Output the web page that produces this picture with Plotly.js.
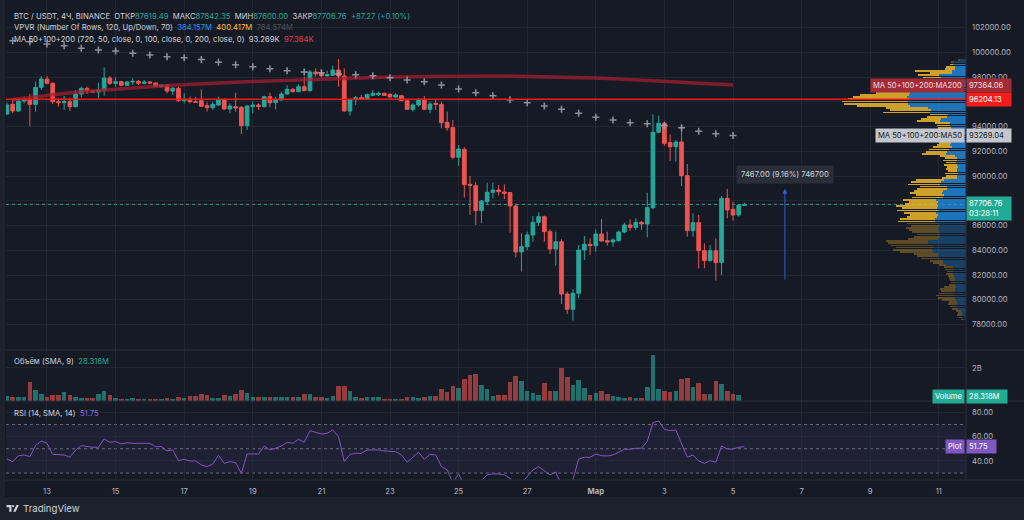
<!DOCTYPE html>
<html><head><meta charset="utf-8">
<script src="https://cdn.plot.ly/plotly-3.0.1.min.js"></script>
<style>html,body{margin:0;padding:0;background:#161a25;overflow:hidden}#chart{width:1024px;height:520px}</style>
</head><body><div id="chart"></div>
<script>
// ---------- DATA (4h candles, BTC/USDT Binance) ----------
const FIRST_CANDLE_UTC = Date.UTC(2025, 1, 11, 20, 0); // Feb 11 20:00
const OPEN = [95011,95792,95254,96062,96196,95792,97166,97839,97489,96008,
95927,96008,95604,96627,97085,96870,96789,96950,97920,97489,
97624,97327,97597,97650,97489,97597,97516,97220,97354,96870,
97085,96089,96196,96008,96089,95685,95523,95738,96143,95415,
95604,95550,94069,95604,95738,95604,96412,95927,96143,96627,
97004,96816,97220,96897,98405,98300,98081,98135,98566,98081,
95254,96170,96331,96196,96519,96573,96681,96600,96385,96492,
96089,95388,95738,96143,95388,95873,95792,94338,93907,91511,
92157,89328,89220,87201,87928,88682,88870,88709,88655,87578,
83862,84292,85235,86258,86716,85504,84104,84696,80468,79229,
80522,84023,84481,84373,85316,84777,84669,84777,85477,86043,
85854,86258,86123,87444,93530,94257,92695,92372,92749,90029,
85585,86232,83970,83162,83970,83000,88198,87309,86851,87619.49];
const HIGH = [95927,96143,96143,96412,96627,97624,98081,98081,97570,96277,
96466,96331,96950,97220,97220,96950,97543,98782,98081,97974,
97700,97680,97893,97758,97758,97680,97560,97408,97408,97220,
97220,96681,96412,96412,97004,95954,96008,96412,96277,95873,
96735,95658,95738,96008,95873,96493,96735,96412,96816,97327,
97100,97408,98028,98566,98701,98566,98512,98916,99455,98701,
96277,96466,96546,96681,96950,96816,96735,96681,96681,96546,
96143,95873,96277,96466,96008,96143,96008,95200,94526,92507,
92318,90002,89490,88063,89463,89463,89274,89328,88700,87793,
85370,85504,86770,87066,86797,85693,85504,84885,80657,80845,
84427,85154,84965,85693,86527,85504,84965,85585,86231,86500,
86581,86366,88655,94984,94876,94392,93368,92910,94068,90971,
86986,86851,84562,84428,84966,88386,88952,87928,87740,87842.35];
const LOW = [94931,95065,95200,95873,94042,95200,96950,97408,95819,95604,
95335,95254,95550,96358,96627,96700,96277,96493,97354,97220,
97250,97280,97354,97354,97408,97462,97190,97166,96681,96547,
96008,95873,95873,95900,95580,95200,95335,95658,95335,95065,
95200,93396,93719,95065,95335,95560,95550,95388,96089,96547,
96760,96762,96850,96816,98028,97974,98060,98120,97220,95200,
94877,95738,96143,96143,96466,96466,96466,96331,96277,96062,
95335,95200,95604,95335,95065,95335,93853,93665,91349,90807,
88252,86852,86043,86177,87712,88197,88413,88143,85423,83431,
82273,84023,84696,85962,84696,83700,82757,79660,78852,78314,
80118,83215,83619,83888,84696,84373,84292,84696,85370,85585,
85639,85639,85046,87309,93449,92452,91214,91160,89194,85101,
85101,82542,82542,83081,81546,82004,86582,86393,86716,87600.00];
const CLOSE = [95738,95254,96062,96196,95792,97166,97839,97489,96008,95927,
96008,95604,96627,97085,96870,96789,96950,97920,97489,97624,
97327,97597,97650,97489,97597,97516,97220,97354,96870,97085,
96089,96196,96008,95950,95631,95523,95792,96143,95415,95658,
95496,94069,95658,95738,95604,96412,95927,96143,96627,97004,
96816,97220,96897,98405,98243,98108,98189,98566,98081,95254,
96170,96331,96196,96573,96681,96681,96519,96385,96546,96089,
95388,95738,96196,95388,95819,95792,94311,93907,91511,92184,
89302,89247,87201,87982,88682,88870,88736,88601,87578,83862,
84292,85235,86258,86716,85504,84104,84696,80468,79229,80522,
84023,84481,84373,85316,84750,84669,84831,85477,86043,85854,
86258,86123,87444,93530,94257,92641,92372,92749,90029,85585,
86232,83970,83162,83970,83000,88198,87255,86851,87632,87706.76];
// volume, millions
const VOLUME_M = [303,242,222,242,1151,667,404,222,343,343,
545,364,222,182,182,182,404,606,343,162,
101,101,202,101,101,101,101,141,202,141,
222,182,303,303,444,343,182,182,343,283,
424,667,505,222,242,242,263,263,222,222,
222,222,424,424,242,242,182,303,889,929,
606,222,182,222,222,222,121,141,121,121,
263,242,162,263,303,303,727,545,909,808,
1333,1576,1616,949,747,323,364,364,1151,1515,
1232,586,485,364,1091,586,586,1980,1454,970,
1293,788,384,465,606,444,323,263,202,222,
202,182,869,2788,747,606,566,586,1333,1414,
848,1111,424,404,1192,1050,586,444,364,28.318];
const RSI = [41.6,39.4,44.3,44.9,43.5,52.6,56.4,54.5,45.4,44.9,
44.9,43.0,49.0,52.6,51.8,51.2,51.2,58.1,55.3,55.9,
54.0,55.0,54.5,54.5,54.5,54.5,51.8,51.8,48.2,49.0,
40.2,41.3,40.0,40.0,36.7,35.3,37.5,44.6,38.0,39.4,
38.6,29.8,45.7,45.7,45.7,52.3,49.0,50.4,52.3,55.3,
54.5,57.8,55.3,64.9,63.3,62.2,62.7,65.5,60.0,39.4,
45.4,46.2,46.2,49.0,49.0,49.0,48.2,47.6,47.6,44.9,
38.9,43.0,47.1,41.3,45.4,44.9,35.3,32.6,22.0,29.3,
20.0,19.0,16.0,24.0,28.5,29.3,29.3,28.5,25.7,18.0,
22.0,27.1,32.6,35.3,32.0,28.5,30.9,20.0,17.0,24.5,
41.6,43.0,43.0,45.7,44.3,44.1,44.9,47.1,49.6,49.6,
50.4,50.4,55.9,71.5,72.9,66.0,64.9,65.5,54.5,43.0,
44.9,40.0,38.0,40.2,38.9,52.3,49.8,49.8,51.2,51.75];
// 12h moving averages
const MA_FIRST_UTC = Date.UTC(2025, 1, 12, 0, 0);
const MA50 = [100933,100853,100667,100529,100319,100182,100101,99916,99778,99641,
99560,99414,99188,98994,98833,98671,98509,98404,98348,98243,
98178,98106,97944,97758,97621,97354,97031,96732,96490,96166,
95924,95657,95391,95067,94744,94526,94300,94227,94082,93904,
93613,93419,93269.04];
const MA200 = [96182,96368,96530,96667,96805,96926,97031,97128,97217,97314,
97394,97459,97516,97580,97637,97686,97742,97798,97855,97903,
97944,97976,98000,98025,98049,98065,98073,98081,98081,98073,
98057,98033,98000,97960,97920,97863,97807,97742,97661,97580,
97491,97403,97364.06];
// Visible-range volume profile, 120 rows (bottom -> top), relative volume
const VP_LOW = 78314, VP_HIGH = 99455, VP_VA_LOW = 86240, VP_VA_HIGH = 99190;
const VP_UP = [3,4,4,4,5,8,9,9,9,10,
11,11,12,11,11,10,11,10,11,11,
12,13,13,12,13,20,23,23,27,28,
28,33,34,32,33,38,38,28,26,26,
27,28,28,27,28,31,31,29,28,30,
28,29,28,29,28,30,23,22,24,23,
19,19,26,25,22,9,9,8,9,9,
8,9,10,9,9,11,20,19,17,14,
16,15,16,15,14,15,15,14,15,16,
16,26,25,19,18,36,35,38,56,58,
58,57,59,57,56,54,55,43,42,35,
26,25,27,14,14,11,11,13,12,6];
const VP_DOWN = [2,3,5,4,5,6,7,9,8,14,
17,19,15,14,15,12,6,5,5,6,
6,7,6,9,9,7,10,13,18,21,
24,33,39,38,42,40,42,30,26,23,
27,29,32,28,31,37,35,30,28,32,
41,35,42,32,29,33,31,28,32,29,
30,27,32,30,28,15,11,13,9,11,
11,13,10,14,12,15,24,21,20,19,
13,12,14,13,12,15,18,15,13,13,
15,23,20,20,18,47,41,42,53,64,
66,61,54,49,34,30,33,40,38,34,
20,18,21,22,37,10,9,3,3,2];
const PRICE_TICKS = [78000,80000,82000,84000,86000,88000,90000,92000,94000,96000,98000,100000,102000];
// 88000 and 96000 sit under the price tags, so their labels are not shown
const PRICE_LABELS = ['78000.00','80000.00','82000.00','84000.00','86000.00','','90000.00','92000.00','94000.00','','98000.00','100000.00','102000.00'];
const DATE_TICKS = ['2025-02-13','2025-02-15','2025-02-17','2025-02-19','2025-02-21','2025-02-23','2025-02-25','2025-02-27','2025-03-01','2025-03-03','2025-03-05','2025-03-07','2025-03-09','2025-03-11'];
const DATE_LABELS = ['13','15','17','19','21','23','25','27','<b>Мар</b>','3','5','7','9','11'];
const HLINE_PRICE = 96204.13;
const LAST_PRICE = 87706.76;
const MEASURE = {time: '2025-03-06 12:20', from: 81500, to: 88967, text: '7467.00 (9.16%) 746700'};

// ---------- helpers ----------
const fmt = d => d.toISOString().slice(0, 16).replace('T', ' ');
const TIMES = CLOSE.map((_, i) => fmt(new Date(FIRST_CANDLE_UTC + i * 4 * 3600e3)));
const MA_TIMES = MA50.map((_, j) => fmt(new Date(MA_FIRST_UTC + j * 12 * 3600e3)));
const rowH = (VP_HIGH - VP_LOW) / VP_UP.length;
const VP_PRICES = VP_UP.map((_, i) => VP_LOW + (i + 0.5) * rowH);
const inVA = p => p >= VP_VA_LOW && p <= VP_VA_HIGH;

const PL = 6, PR = 966, PB = 480;
const px = v => (v - PL) / (PR - PL);
const py = v => (PB - v) / PB;
const F = 'Inter, "Noto Sans", sans-serif';
const TXT = '#d1d4dc', AX = '#b2b5be', GRID = 'rgba(42,46,57,0.6)', SEP = '#2a2e39';
const UP = '#26a69a', DN = '#ef5350';

const traces = [
  {type: 'candlestick', x: TIMES, open: OPEN, high: HIGH, low: LOW, close: CLOSE,
   xaxis: 'x', yaxis: 'y', whiskerwidth: 0, hoverinfo: 'skip',
   increasing: {line: {color: UP, width: 1}, fillcolor: UP},
   decreasing: {line: {color: DN, width: 1}, fillcolor: DN}},
  {type: 'scatter', mode: 'lines', x: MA_TIMES, y: MA200, xaxis: 'x', yaxis: 'y',
   line: {color: 'rgba(165,30,46,0.72)', width: 3.6}, hoverinfo: 'skip'},
  {type: 'scatter', mode: 'markers', x: MA_TIMES, y: MA50, xaxis: 'x', yaxis: 'y',
   marker: {symbol: 'cross-thin', size: 5, line: {width: 1.6, color: 'rgba(160,163,172,0.85)'}}, hoverinfo: 'skip'},
  {type: 'bar', x: TIMES, y: VOLUME_M, xaxis: 'x', yaxis: 'y2', hoverinfo: 'skip',
   marker: {color: CLOSE.map((c, i) => c >= OPEN[i] ? 'rgba(38,166,154,0.62)' : 'rgba(239,83,80,0.6)'), line: {width: 0}}},
  {type: 'scatter', mode: 'lines', x: TIMES, y: RSI, xaxis: 'x', yaxis: 'y3',
   line: {color: '#7e57c2', width: 1}, hoverinfo: 'skip'},
  {type: 'bar', orientation: 'h', x: VP_UP, y: VP_PRICES, xaxis: 'x2', yaxis: 'y', hoverinfo: 'skip',
   marker: {color: VP_PRICES.map(p => inVA(p) ? 'rgba(33,150,243,0.72)' : 'rgba(33,150,243,0.3)'), line: {width: 0}}},
  {type: 'bar', orientation: 'h', x: VP_DOWN, y: VP_PRICES, xaxis: 'x2', yaxis: 'y', hoverinfo: 'skip',
   marker: {color: VP_PRICES.map(p => inVA(p) ? 'rgba(251,192,45,0.8)' : 'rgba(251,192,45,0.3)'), line: {width: 0}}}
];

const sepLine = (y) => ({type: 'line', xref: 'paper', yref: 'paper', x0: px(0), x1: px(1024), y0: py(y), y1: py(y), line: {color: SEP, width: 1}, layer: 'above'});
const shapes = [
  {type: 'rect', xref: 'paper', yref: 'y3', x0: 0, x1: 1, y0: 30, y1: 70, fillcolor: 'rgba(126,87,194,0.1)', line: {width: 0}, layer: 'below'},
  ...[70, 50, 30].map(v => ({type: 'line', xref: 'paper', yref: 'y3', x0: 0, x1: 1, y0: v, y1: v, line: {color: 'rgba(120,123,134,0.85)', width: 1, dash: '3px,3px'}, layer: 'below'})),
  {type: 'line', xref: 'paper', yref: 'y', x0: 0, x1: 1, y0: LAST_PRICE, y1: LAST_PRICE, line: {color: UP, width: 1, dash: 'dot'}, layer: 'below'},
  {type: 'line', xref: 'paper', yref: 'y', x0: 0, x1: 1, y0: HLINE_PRICE, y1: HLINE_PRICE, line: {color: '#f01818', width: 1.5}, layer: 'above'},
  sepLine(350), sepLine(401), sepLine(480),
  {type: 'line', xref: 'paper', yref: 'paper', x0: 1, x1: 1, y0: py(0), y1: py(480), line: {color: SEP, width: 1}},
  {type: 'rect', xref: 'paper', yref: 'paper', x0: px(0), x1: px(5), y0: py(0), y1: py(497), fillcolor: '#1e222d', line: {width: 0}},
  {type: 'rect', xref: 'paper', yref: 'paper', x0: px(0), x1: px(1024), y0: py(497), y1: py(520), fillcolor: '#1e222d', line: {width: 0}},
  // TradingView logo
  {type: 'path', xref: 'paper', yref: 'paper', fillcolor: '#d1d4dc', line: {width: 0},
   path: `M ${px(6.5)} ${py(505)} L ${px(11.5)} ${py(505)} L ${px(11.5)} ${py(511.8)} L ${px(9.3)} ${py(511.8)} L ${px(9.3)} ${py(507.2)} L ${px(6.5)} ${py(507.2)} Z`},
  {type: 'circle', xref: 'paper', yref: 'paper', fillcolor: '#d1d4dc', line: {width: 0}, x0: px(12), x1: px(14.2), y0: py(505), y1: py(507.2)},
  {type: 'path', xref: 'paper', yref: 'paper', fillcolor: '#d1d4dc', line: {width: 0},
   path: `M ${px(13.2)} ${py(511.8)} L ${px(16.4)} ${py(505)} L ${px(18.8)} ${py(505)} L ${px(15.6)} ${py(511.8)} Z`}
];

const sp = (c, t) => `<span style="color:${c}">${t}</span>`;
const NB = '\u00a0';
const txt = (x, y, text, size, extra) => Object.assign({xref: 'paper', yref: 'paper', x: px(x), y: py(y), xanchor: 'left', yanchor: 'middle', text, showarrow: false, font: {family: F, size: size || 7.7, color: TXT}}, extra || {});
const tag = (x, y, text, bg, fg, anchor, width) => Object.assign({xref: 'paper', yref: 'paper', x: px(x), y: py(y), xanchor: anchor, yanchor: 'middle', text, showarrow: false, bgcolor: bg, borderpad: 2, font: {family: F, size: 7.6, color: fg}}, width ? {width, align: 'left'} : {});

const annotations = [
  txt(12, 16.7, `BTC / USDT, 4Ч, BINANCE${NB}${NB}ОТКР${sp(UP, '87619.49')}${NB}${NB}МАКС${sp(UP, '87842.35')}${NB}${NB}МИН${sp(UP, '87600.00')}${NB}${NB}ЗАКР${sp(UP, '87706.76')}${NB}${NB}${sp(UP, '+87.27 (+0.10%)')}`),
  txt(12, 27.6, `VPVR (Number Of Rows, 120, Up/Down, 70)${NB}${NB}${sp('#2196f3', '384.157M')}${NB}${NB}${sp('#fbc02d', '400.417M')}${NB}${NB}${sp('#50535e', '784.574M')}`),
  txt(12, 39.3, `MA 50+100+200 (720, 50, close, 0, 100, close, 0, 200, close, 0)${NB}${NB}93.269K${NB}${NB}${sp('#e0404c', '97.364K')}`),
  txt(12, 361, `Объём (SMA, 9)${NB}${NB}${sp('#22ab94', '28.318M')}`),
  txt(12, 413, `RSI (14, SMA, 14)${NB}${NB}${sp('#8e6cd4', '51.75')}`),
  txt(21, 508, 'TradingView', 9.6, {font: {family: F, size: 9.6, color: '#d1d4dc'}}),
  // right-side tags
  tag(965, 85, 'MA 50+100+200:MA200', '#a32b36', '#f0dfe1', 'right'),
  tag(966, 85, '97364.06', '#a32b36', '#f0dfe1', 'left', 40),
  tag(966, 99.5, '96204.13', '#f41b1b', '#ffffff', 'left', 40),
  tag(965, 135.3, 'MA 50+100+200:MA50', '#c3c6cd', '#131722', 'right'),
  tag(966, 135.3, '93269.04', '#c3c6cd', '#131722', 'left', 40),
  tag(966, 208.6, '87706.76<br>03:28:11', '#22ab94', '#ffffff', 'left', 40),
  tag(965, 396, 'Volume', '#22ab94', '#ffffff', 'right'),
  tag(966, 396, '28.318M', '#22ab94', '#ffffff', 'left', 36),
  tag(965, 446.7, 'Plot', '#7e57c2', '#ffffff', 'right'),
  tag(966, 446.7, '51.75', '#7e57c2', '#ffffff', 'left', 25),
  // measure tool
  {x: MEASURE.time, y: MEASURE.to, xref: 'x', yref: 'y', ax: MEASURE.time, ay: MEASURE.from, axref: 'x', ayref: 'y',
   showarrow: true, arrowhead: 2, arrowsize: 1, arrowwidth: 1, arrowcolor: '#2f5be0', text: '', standoff: 0},
  {x: MEASURE.time, xref: 'x', yref: 'paper', y: py(174.5), xanchor: 'center', yanchor: 'middle', text: MEASURE.text,
   showarrow: false, bgcolor: '#2a2e39', borderpad: 4, font: {family: F, size: 7.7, color: TXT}}
];

const yCommon = {side: 'right', anchor: 'x', showgrid: true, gridcolor: GRID, zeroline: false, showline: false,
  tickfont: {family: F, size: 7.7, color: AX}, ticks: '', ticklabelstandoff: 5, fixedrange: true};

const layout = {
  width: 1024, height: 520,
  margin: {l: PL, r: 1024 - PR, t: 0, b: 520 - PB, pad: 0},
  paper_bgcolor: '#161a25', plot_bgcolor: '#161a25',
  showlegend: false, hovermode: false, dragmode: false,
  barmode: 'stack', bargap: 0.2, boxgap: 0.35, boxgroupgap: 0,
  xaxis: {type: 'date', anchor: 'y3', domain: [0, 1], range: ['2025-02-11 19:19', '2025-03-11 19:02'],
    rangeslider: {visible: false}, showgrid: true, gridcolor: GRID, zeroline: false, showline: false,
    tickmode: 'array', tickvals: DATE_TICKS, ticktext: DATE_LABELS, ticks: '', ticklabelstandoff: 5,
    tickfont: {family: F, size: 7.7, color: AX}},
  xaxis2: {overlaying: 'x', anchor: 'y', range: [PR - PL, 0], visible: false, showgrid: false, zeroline: false},
  yaxis: Object.assign({}, yCommon, {domain: [py(350), 1], range: [75942, 104222],
    tickmode: 'array', tickvals: PRICE_TICKS, ticktext: PRICE_LABELS}),
  yaxis2: Object.assign({}, yCommon, {domain: [py(401), py(350)], range: [0, 3090],
    tickmode: 'array', tickvals: [2000], ticktext: ['2B']}),
  yaxis3: Object.assign({}, yCommon, {domain: [0, py(401)], range: [24.3, 89.3],
    tickmode: 'array', tickvals: [40, 60, 80], tickformat: '.2f'}),
  shapes, annotations
};

Plotly.newPlot('chart', traces, layout, {displayModeBar: false, staticPlot: true});
</script>
</body></html>
